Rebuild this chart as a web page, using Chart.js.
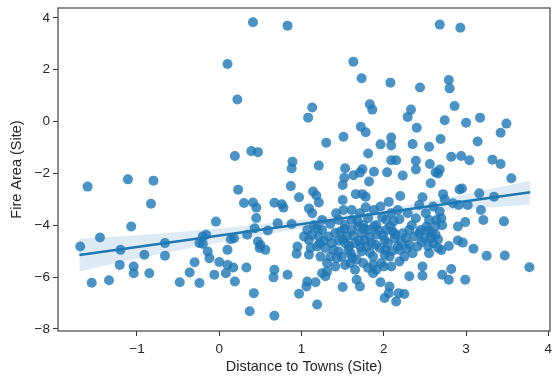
<!DOCTYPE html>
<html lang="en">
<head>
  <meta charset="UTF-8" />
  <title>Fire Area vs Distance to Towns</title>
  <style>
    * { box-sizing: border-box; }
    body { margin: 0; background: #fff; }
    canvas { display: block; }
  </style>
</head>
<body>
  <canvas id="regChart" width="555" height="378"></canvas>

  <script src="https://cdn.jsdelivr.net/npm/chart.js"></script>
  <script>
    // scatter points (distance, fire area)
    const distX = [
      0.41, 0.83, 0.10, 0.22,
      1.63, 1.73, 2.08, 2.44, 1.13, 1.83, 1.86, 2.33,
      2.68, 2.93, 2.79, 2.80, 2.86,
      -1.60, -1.11, -0.80, -0.83,
      0.19, 0.39, 0.47, 0.89, 0.88, 0.87, 0.23, 0.97, 0.30, 0.41, 0.45, 0.67, 0.76, 0.78, 0.45, -0.04, 0.71, 0.88,
      1.08, 2.29, 1.72, 1.78, 2.40, 1.30, 1.51, 1.96, 2.09, 2.09, 2.35, 1.81, 2.09, 2.15, 2.39, 2.39,
      1.21, 1.53, 1.52, 1.63, 1.71, 1.74, 1.88, 2.04, 2.23, 1.82, 1.50, 1.14, 1.18, 1.21,
      1.66, 1.74, 1.78, 1.50, 2.20, 2.06, 2.47, 1.09, 1.13, 1.42, 1.51, 1.61, 1.78, 1.88, 1.96, 2.17,
      2.43, 2.51, 2.03, 2.19, 2.39,
      2.74, 3.00, 3.17, 3.49, 3.42, 2.69, 3.14, 2.55, 2.82, 2.94, 3.04, 3.32, 3.42, 2.56, 2.68, 2.63,
      2.66, 3.55, 2.57, 2.92, 2.95, 3.16, 3.34, 2.72, 2.74, 2.84, 2.91, 3.02, 2.60, 3.18, 2.68, 2.70,
      3.21, 3.46, 2.99,
      -1.69, -1.45, -1.07, -1.20, -1.21, -1.04, -1.04, -0.85, -1.55, -1.34, -0.91, -0.66, -0.66, -0.48,
      -0.20, -0.16, -0.24, -0.20, -0.14, -0.12, -0.30, -0.36, -0.24, -0.06, 0.00, 0.10, 0.17, 0.08,
      0.19, 0.10, 0.14, 0.18, 0.33, 0.34, 0.43, 0.47, 0.50, 0.56, 0.49, 0.59, 0.42, 0.37, 0.67, 0.67,
      0.66, 0.83, 0.95, 0.94, 0.97,
      1.19, 1.50, 1.67, 1.71, 1.96, 2.07, 2.01, 2.06, 2.18, 2.25, 2.15, 2.31, 2.47, 1.06, 1.07, 1.17,
      1.25, 1.31, 1.29, 1.41, 1.09, 1.23, 1.59, 1.75, 1.81, 1.87, 1.91, 2.00, 2.09, 2.19, 2.07, 2.47,
      2.31, 2.45,
      1.09, 1.13, 1.07, 1.11, 1.19, 1.29, 1.25, 1.33, 1.37, 1.45, 1.53, 1.55, 1.61, 1.65, 1.69, 1.73,
      1.77, 1.79, 1.85, 1.87, 1.91, 1.95, 2.01, 2.03, 2.11, 2.13, 2.17, 2.21, 2.23, 1.87, 1.97, 1.67,
      1.49, 1.35, 1.43, 1.31, 2.35, 2.25, 2.41, 2.49, 2.37, 1.65, 1.53, 1.73, 2.01, 1.57, 1.21, 1.03,
      1.19, 1.47, 1.81, 1.91, 1.53, 1.75,
      1.25, 1.61, 1.81, 1.45, 1.71, 2.29, 2.09,
      2.79, 2.90, 2.96, 3.09, 3.25, 3.47, 3.77, 2.71, 2.79, 2.82, 2.99, 2.90,
      2.54, 2.57, 2.63, 2.66, 2.70, 2.55, 2.54, 2.60, 2.71, 2.63, 2.55, 2.64,
      1.15, 1.27, 1.39, 1.41, 1.50, 1.58, 1.63, 1.70, 1.76, 1.83, 1.90, 1.94, 1.99, 2.05, 2.08, 2.14,
      2.19, 2.27, 2.31, 2.34, 2.43, 2.46, 1.60, 1.83, 2.10, 2.28, 1.72, 1.45, 1.35, 1.98, 2.12, 2.58,
      2.66, 2.52, 1.88, 1.68, 1.52, 1.22, 2.02, 1.62
    ];
    const areaY = [
      3.83, 3.70, 2.22, 0.85,
      2.31, 1.67, 1.50, 1.31, 0.54, 0.67, 0.46, 0.46,
      3.74, 3.62, 1.60, 1.28, 0.60,
      -2.51, -2.23, -2.28, -3.17,
      -1.33, -1.14, -1.18, -1.55, -1.81, -2.49, -2.63, -2.92, -3.14, -3.12, -3.32, -3.13, -3.19, -3.32, -3.72, -3.86, -3.92, -3.95,
      0.15, 0.18, -0.20, -0.41, -0.24, -0.82, -0.59, -0.88, -0.62, -0.92, -0.87, -1.23, -1.49, -1.49, -1.51, -1.85,
      -1.70, -1.80, -2.17, -2.07, -1.97, -1.84, -1.94, -1.96, -2.08, -2.31, -2.45, -2.70, -2.85, -3.12,
      -2.80, -2.80, -2.90, -3.03, -2.87, -3.10, -2.92, -3.35, -3.54, -3.54, -3.41, -3.41, -3.31, -3.41, -3.28, -3.41,
      -3.22, -3.54, -3.80, -3.77, -3.73,
      0.05, -0.05, 0.15, -0.08, -0.43, -0.67, -0.77, -0.97, -1.36, -1.33, -1.49, -1.47, -1.64, -1.64, -1.85, -1.96,
      -2.00, -2.19, -2.38, -2.62, -2.58, -2.77, -2.90, -2.80, -3.00, -3.15, -3.22, -3.22, -3.28, -3.41, -3.47, -3.73,
      -3.80, -3.85, -3.88,
      -4.82, -4.47, -4.05, -4.95, -5.53, -5.59, -5.85, -5.85, -6.22, -6.12, -5.14, -4.69, -5.18, -6.20,
      -4.43, -4.37, -4.69, -4.72, -5.01, -5.27, -5.43, -5.82, -6.23, -5.91, -5.42, -5.53, -5.63, -5.85,
      -6.17, -4.95, -4.54, -4.50, -5.63, -4.37, -4.12, -4.63, -4.76, -4.95, -4.88, -4.20, -6.62, -7.32, -7.49, -5.72,
      -6.01, -5.91, -4.82, -5.10, -6.64,
      -7.06, -6.38, -6.10, -6.36, -6.20, -6.36, -6.81, -6.62, -6.62, -6.65, -6.94, -5.97, -5.95, -6.36, -6.17, -6.20,
      -5.85, -5.78, -5.97, -5.59, -5.14, -5.21, -5.46, -5.46, -5.65, -5.85, -5.72, -5.59, -5.59, -5.40, -5.21, -5.59,
      -4.18, -4.18,
      -4.57, -4.37, -4.18, -4.88, -4.82, -4.88, -4.18, -4.43, -4.69, -5.01, -4.69, -4.43, -4.18, -4.69, -4.05, -4.31,
      -4.57, -4.82, -4.69, -5.21, -4.37, -4.88, -4.57, -4.18, -4.24, -4.50, -4.82, -4.63, -4.31, -5.53, -5.46, -5.33,
      -5.21, -5.21, -5.27, -5.46, -5.08, -5.21, -4.82, -4.50, -4.43, -5.72, -5.53, -5.01, -5.14, -4.95, -4.43, -4.43,
      -4.12, -4.24, -4.18, -3.99, -3.99, -3.99,
      -3.80, -3.80, -3.73, -3.80, -3.54, -3.54, -3.54,
      -4.80, -4.59, -4.67, -4.91, -5.18, -5.17, -5.62, -5.91, -6.10, -5.69, -6.10, -4.05,
      -4.20, -4.50, -4.37, -4.88, -4.96, -5.08, -4.82, -4.69, -4.00, -4.04, -3.80, -3.80,
      -4.00, -4.60, -4.95, -4.30, -4.55, -4.80, -4.40, -4.60, -4.15, -4.45, -4.75, -4.20, -4.40, -4.70, -4.05, -4.35,
      -4.95, -4.50, -4.75, -4.00, -4.30, -4.65, -5.10, -5.05, -5.00, -4.90, -4.85, -4.60, -3.95, -3.70, -3.85, -4.30,
      -4.55, -4.05, -4.05, -3.85, -4.15, -4.70, -4.95, -5.25
    ];

    // fitted line and its confidence band
    const fitX = [-1.70, 3.78];
    const fitY = [-5.15, -2.73];
    const bandX = [-1.70, -1.0, 0, 1, 1.7, 2.5, 3.78];
    const bandLow = [-5.78, -5.29, -4.68, -4.13, -3.80, -3.50, -3.20];
    const bandHigh = [-4.52, -4.39, -4.12, -3.79, -3.50, -3.10, -2.28];

    const xTicks = [-1, 0, 1, 2, 3, 4];
    const yTicks = [-8, -6, -4, -2, 0, 2, 4];

    const blue = '#1f77b4';
    const inkColor = '#262626';
    const fontFamily = "'Liberation Sans', Arial, sans-serif";
    const fmt = v => (v < 0 ? '\u2212' + Math.abs(v) : String(v));

    const toPts = (xs, ys) => xs.map((x, i) => ({ x: x, y: ys[i] }));

    // box around the plot like matplotlib spines
    const spines = {
      id: 'spines',
      afterDatasetsDraw(chart) {
        const { ctx, chartArea: a } = chart;
        ctx.save();
        ctx.strokeStyle = '#4a4a4a';
        ctx.lineWidth = 1.25;
        ctx.strokeRect(a.left, a.top, a.right - a.left, a.bottom - a.top);
        ctx.restore();
      }
    };

    new Chart(document.getElementById('regChart'), {
      type: 'scatter',
      data: {
        datasets: [
          {
            data: toPts(distX, areaY),
            backgroundColor: 'rgba(31,119,180,0.8)',
            borderWidth: 0,
            pointRadius: 5,
            order: 3
          },
          {
            type: 'line',
            data: toPts(bandX, bandLow),
            borderWidth: 0,
            pointRadius: 0,
            fill: false,
            tension: 0.4,
            order: 2
          },
          {
            type: 'line',
            data: toPts(bandX, bandHigh),
            borderWidth: 0,
            pointRadius: 0,
            backgroundColor: 'rgba(31,119,180,0.15)',
            fill: '-1',
            tension: 0.4,
            order: 2
          },
          {
            type: 'line',
            data: toPts(fitX, fitY),
            borderColor: blue,
            borderWidth: 2.6,
            pointRadius: 0,
            fill: false,
            order: 1
          }
        ]
      },
      options: {
        responsive: false,
        animation: false,
        devicePixelRatio: 1,
        layout: { padding: { left: 0, right: 2, top: 8, bottom: 0 } },
        plugins: {
          legend: { display: false },
          tooltip: { enabled: false }
        },
        scales: {
          x: {
            type: 'linear',
            min: -1.96,
            max: 4.02,
            afterBuildTicks: s => { s.ticks = xTicks.map(v => ({ value: v })); },
            afterFit: s => { s.height = 47; s.paddingLeft = 0; s.paddingRight = 0; },
            grid: { drawOnChartArea: false, drawTicks: true, tickLength: 5, color: '#333' },
            border: { display: false },
            ticks: {
              color: inkColor,
              padding: 5,
              maxRotation: 0,
              font: { family: fontFamily, size: 13.5 },
              callback: v => fmt(v)
            },
            title: {
              display: true,
              text: 'Distance to Towns (Site)',
              color: inkColor,
              padding: { top: 0, bottom: 2 },
              font: { family: fontFamily, size: 14.5 }
            }
          },
          y: {
            type: 'linear',
            min: -8.08,
            max: 4.38,
            afterBuildTicks: s => { s.ticks = yTicks.map(v => ({ value: v })); },
            afterFit: s => { s.width = 58; s.paddingTop = 0; s.paddingBottom = 0; },
            grid: { drawOnChartArea: false, drawTicks: true, tickLength: 5, color: '#333' },
            border: { display: false },
            ticks: {
              color: inkColor,
              padding: 3,
              font: { family: fontFamily, size: 13.5 },
              callback: v => fmt(v)
            },
            title: {
              display: true,
              text: 'Fire Area (Site)',
              color: inkColor,
              padding: { top: 8, bottom: 0 },
              font: { family: fontFamily, size: 14.5 }
            }
          }
        }
      },
      plugins: [spines]
    });
  </script>
</body>
</html>
